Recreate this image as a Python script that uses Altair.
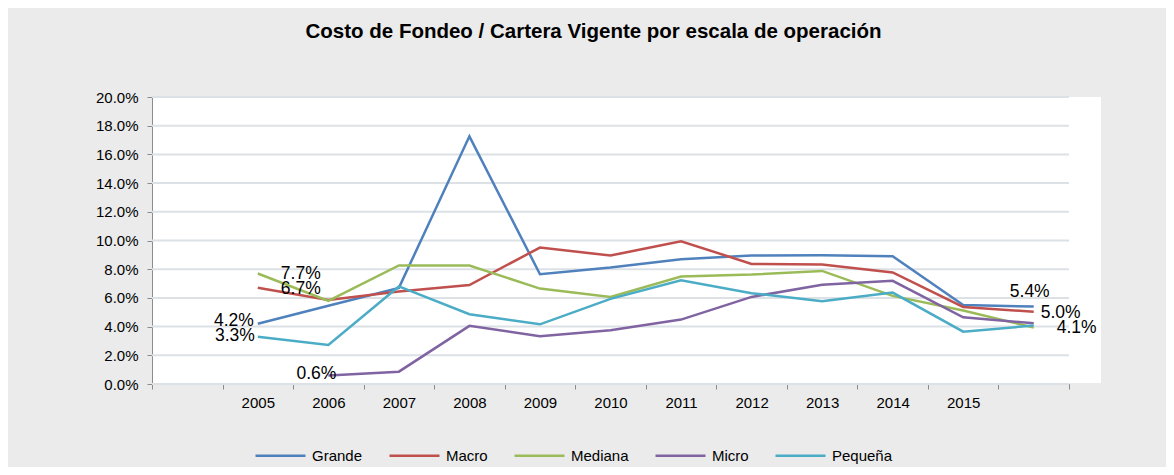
import json
import altair as alt
import pandas as pd

# ---------------- data ----------------
slot_labels = ["", "2005", "2006", "2007", "2008", "2009", "2010", "2011",
               "2012", "2013", "2014", "2015", "", ""]
series_names = ["Grande", "Macro", "Mediana", "Micro", "Pequeña"]
series_colors = ["#4F81BD", "#C0504D", "#9BBB59", "#8064A2", "#4BACC6"]

grande = [4.2, 5.45, 6.7, 17.26, 7.65, 8.12, 8.7, 8.95, 8.97, 8.9, 5.5, 5.4]
macro = [6.7, 5.86, 6.44, 6.9, 9.51, 8.95, 9.95, 8.37, 8.33, 7.77, 5.37, 5.03]
mediana = [7.7, 5.79, 8.26, 8.26, 6.65, 6.07, 7.49, 7.63, 7.88, 6.14, 5.12, 3.93]
micro = [None, 0.6, 0.86, 4.05, 3.33, 3.74, 4.49, 6.07, 6.91, 7.19, 4.65, 4.23]
pequena = [3.3, 2.72, 6.8, 4.86, 4.16, 5.93, 7.23, 6.33, 5.77, 6.37, 3.65, 4.07]

y_ticks = [0.0, 0.02, 0.04, 0.06, 0.08, 0.10, 0.12, 0.14, 0.16, 0.18, 0.20]

# labelled points: (series, point index, side)
label_points = [
    ("Grande", 0, "left"), ("Pequeña", 0, "left"), ("Micro", 1, "left"),
    ("Mediana", 0, "right"), ("Macro", 0, "right"),
    ("Grande", 11, "above"), ("Macro", 11, "right"), ("Pequeña", 11, "right"),
]

# ---------------- build table ----------------
first_slot = 1
rows = []
for name, vals in zip(series_names, [grande, macro, mediana, micro, pequena]):
    for i, v in enumerate(vals):
        if v is None:
            continue
        rows.append({"serie": name, "idx": i, "pos": first_slot + i + 0.5, "valor": v / 100})
df = pd.DataFrame(rows)

FONT = "Liberation Sans"
W, H = 917, 287
n_slots = 13

x_scale = alt.Scale(domain=[0, n_slots], nice=False, zero=False)
y_scale = alt.Scale(domain=[0, 0.2], nice=False)
color_scale = alt.Scale(domain=series_names, range=series_colors)

label_expr = json.dumps(slot_labels) + "[datum.value] || ''"

x_axis = alt.Axis(values=list(range(n_slots + 1)), tickCount=n_slots + 1,
                  labelExpr=label_expr,
                  labelOffset=W / n_slots / 2, grid=False,
                  domainColor="#8C8C8C", tickColor="#8C8C8C", tickSize=5,
                  labelFontSize=15, labelFont=FONT, labelColor="#000000",
                  labelPadding=6, labelFlush=False, labelOverlap=False)
y_axis = alt.Axis(values=y_ticks, tickCount=len(y_ticks), format=".1%", grid=False,
                  domainColor="#8C8C8C", tickColor="#8C8C8C", tickSize=5,
                  labelFontSize=15, labelFont=FONT, labelColor="#000000",
                  labelPadding=9, labelOverlap=False, labelFlush=False)

# white plot background (extends a bit to the right of the axis like the original)
bg = alt.Chart(alt.Data(values=[{}])).mark_rect(color="white").encode(
    x=alt.value(1), x2=alt.value(949), y=alt.value(0), y2=alt.value(286)
)

grid = alt.Chart(pd.DataFrame({"t": y_ticks})).mark_rule(
    color="#DCE1E6", strokeWidth=2
).encode(
    y=alt.Y("t:Q", scale=y_scale, axis=y_axis, title=None),
    x=alt.value(0), x2=alt.value(W),
)

lines = alt.Chart(df).mark_line(strokeWidth=2.5).encode(
    x=alt.X("pos:Q", scale=x_scale, title=None, axis=x_axis),
    y=alt.Y("valor:Q", scale=y_scale, title=None, axis=y_axis),
    color=alt.Color("serie:N", scale=color_scale,
                    legend=alt.Legend(orient="none", legendX=102, legendY=332,
                                      direction="horizontal", columns=5, title=None,
                                      symbolType="stroke", symbolSize=2500,
                                      symbolStrokeWidth=2.5, labelFontSize=15,
                                      labelFont=FONT, labelColor="#000000",
                                      labelOffset=5, columnPadding=21, padding=0)),
    order=alt.Order("idx:Q"),
)

style = {
    "left": dict(align="right", dx=-4, dy=-3),
    "right": dict(align="left", dx=23, dy=0),
    "above": dict(align="center", dx=-4, dy=-15),
}
custom = {
    ("Pequeña", 0): dict(dx=-3, dy=-1),
    ("Micro", 1): dict(dx=8, dy=-1),
    ("Macro", 0): dict(dy=1),
    ("Macro", 11): dict(dx=7, dy=1),
    ("Pequeña", 11): dict(dx=23, dy=2),
}

label_layers = []
for serie, idx, side in label_points:
    props = dict(style[side])
    props.update(custom.get((serie, idx), {}))
    lab = alt.Chart(df).transform_filter(
        (alt.datum.serie == serie) & (alt.datum.idx == idx)
    ).mark_text(fontSize=17.5, font=FONT, color="#000000", baseline="middle", **props).encode(
        x=alt.X("pos:Q", scale=x_scale),
        y=alt.Y("valor:Q", scale=y_scale),
        text=alt.Text("valor:Q", format=".1%"),
    )
    label_layers.append(lab)

chart = alt.layer(bg, grid, lines, *label_layers).properties(
    width=W, height=H,
    title=alt.TitleParams("Costo de Fondeo / Cartera Vigente por escala de operación",
                          fontSize=20.5, font=FONT, fontWeight="bold", color="#000000",
                          anchor="middle", dx=-17, offset=48),
    padding={"left": 144, "top": 89, "right": 97, "bottom": 83},
    autosize=alt.AutoSizeParams(type="none"),
).configure(background="#EBEBEB").configure_view(strokeWidth=0)

chart.save("out.html", embed_options={"renderer": "svg", "actions": False})
